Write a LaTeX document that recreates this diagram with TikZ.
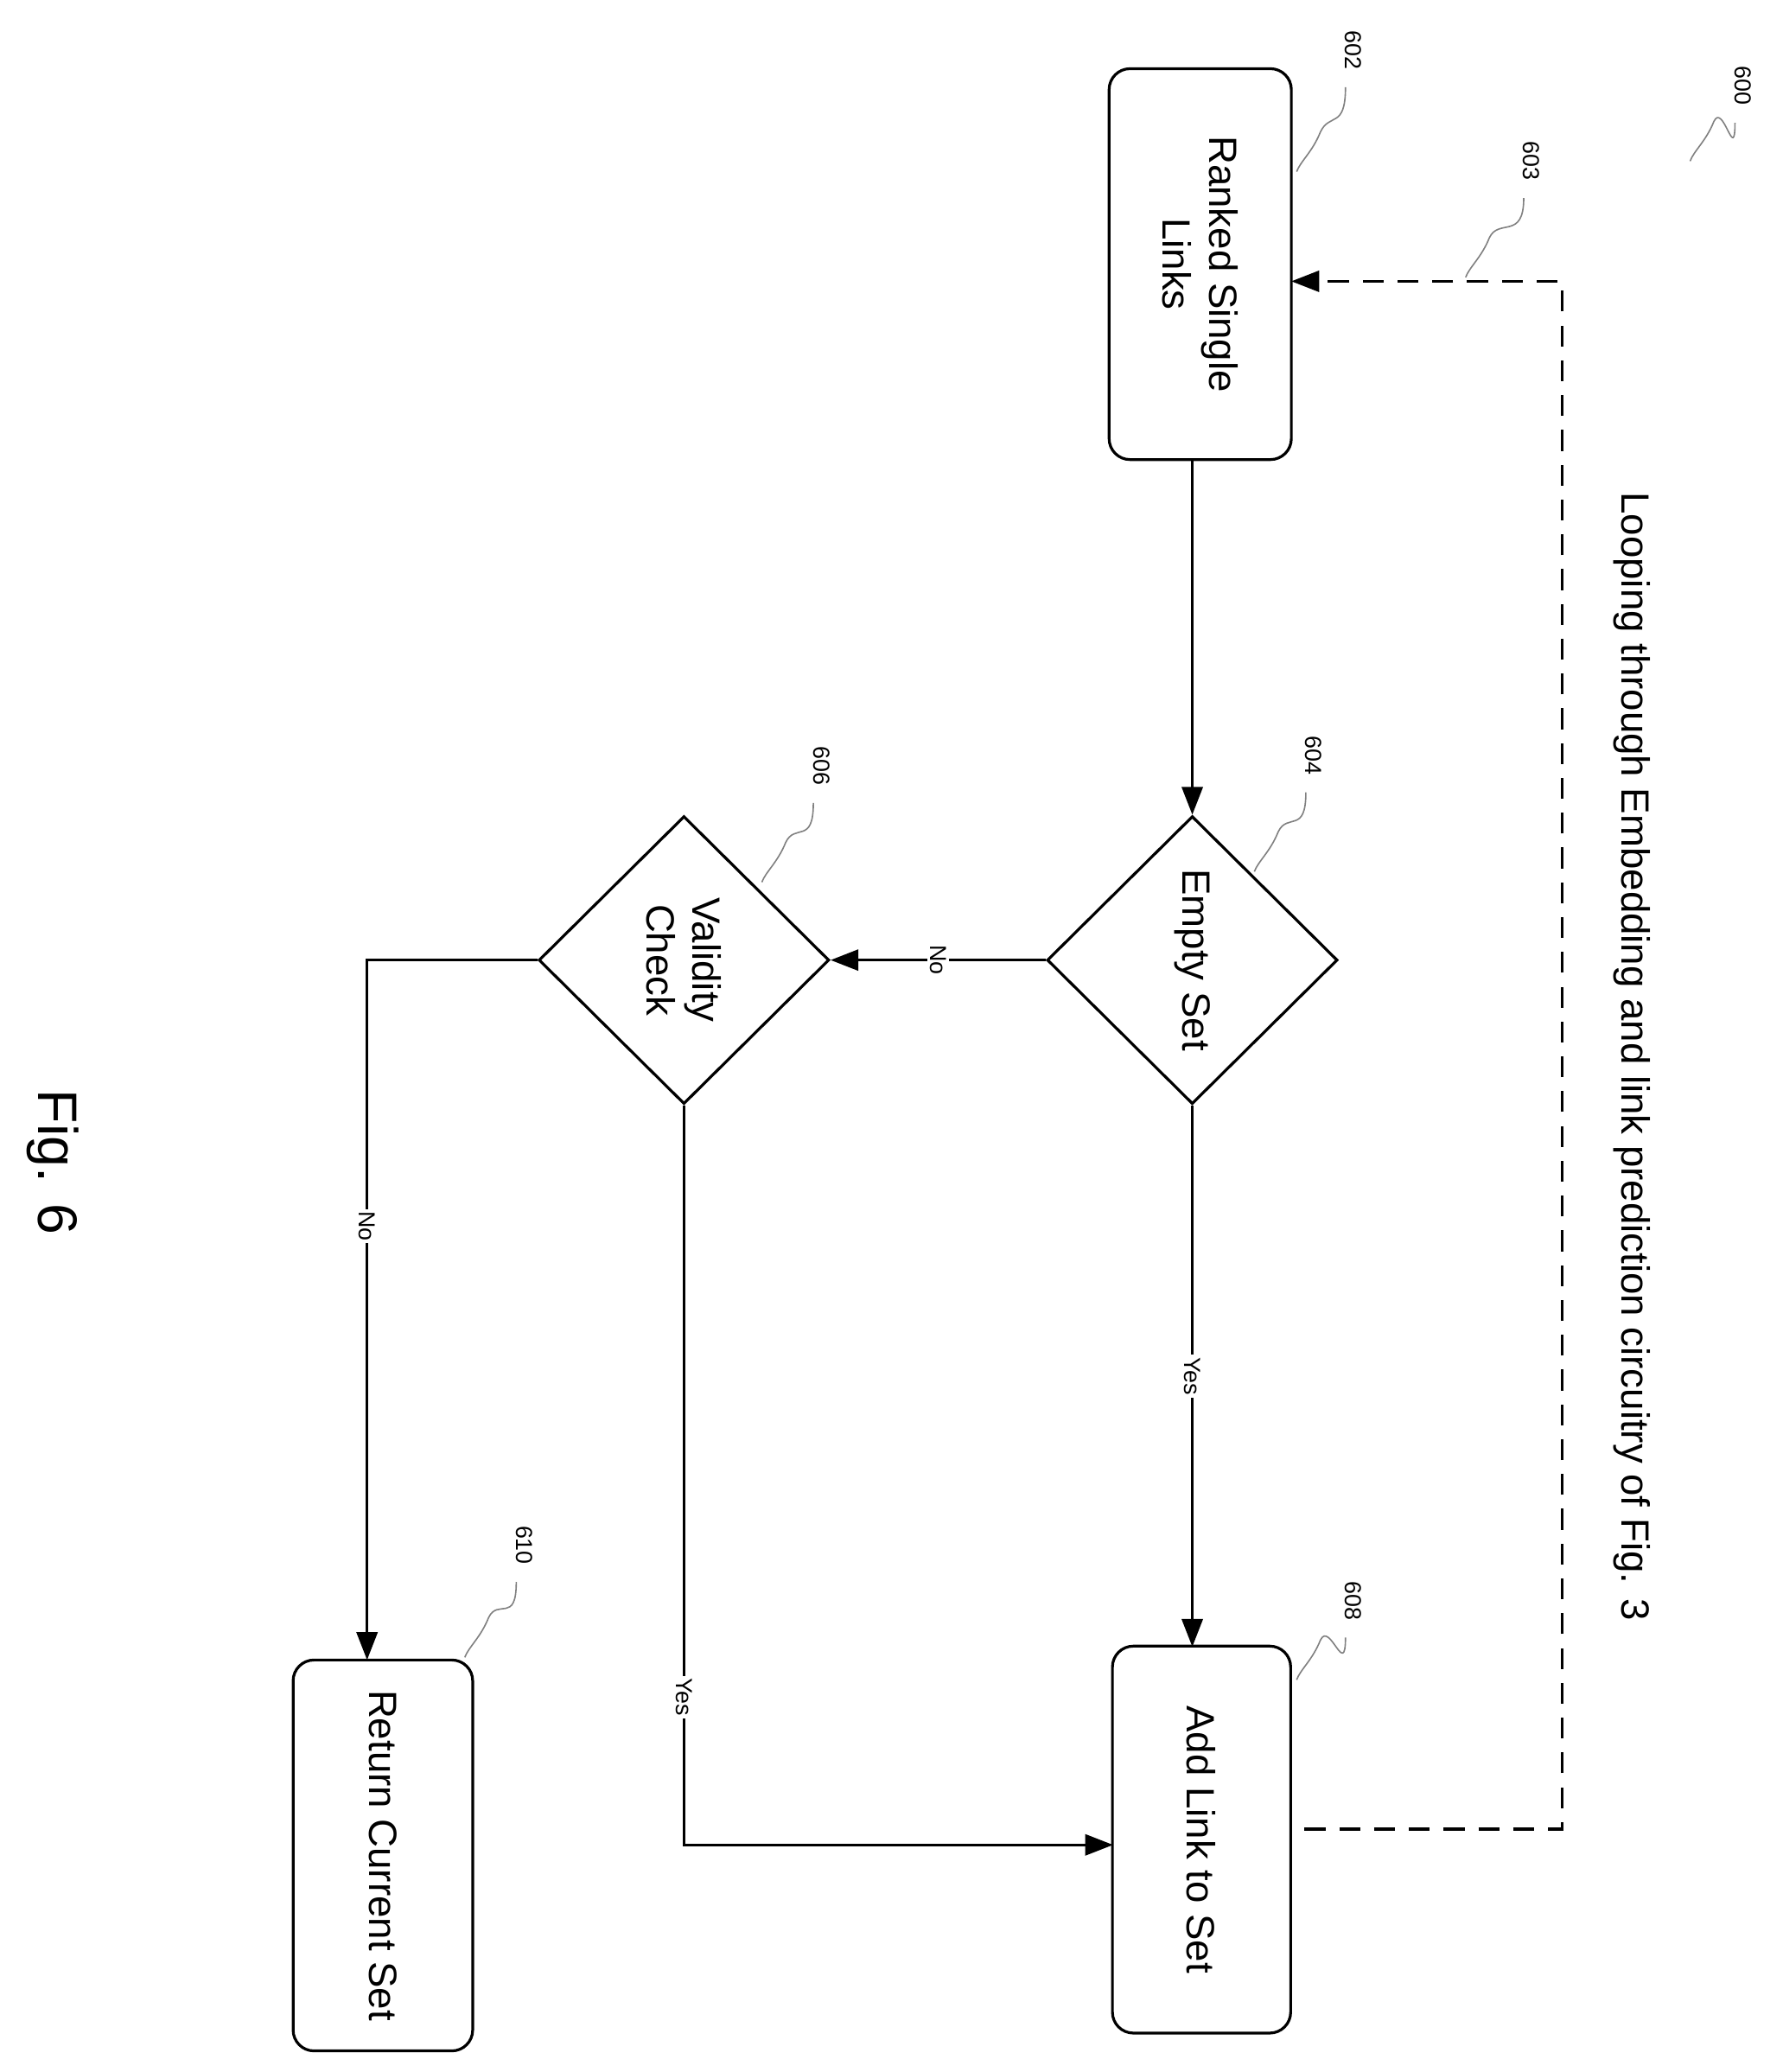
\documentclass[tikz,border=0pt]{standalone}
\usepackage{fontspec}
\setmainfont{Liberation Sans}
\usetikzlibrary{shapes.geometric,arrows.meta}
\begin{document}
\begin{tikzpicture}[x=0.02cm,y=-0.02cm,
  box/.style={draw,line width=1.2pt,rounded corners=9pt,inner sep=0pt},
  dia/.style={draw,line width=1.2pt,diamond,minimum width=220*0.02cm,minimum height=218*0.02cm,inner sep=0pt},
  txt/.style={rotate=-90,font=\fontsize{17}{20}\selectfont,align=center},
  lab/.style={rotate=-90,font=\fontsize{10}{12}\selectfont,fill=white,inner sep=1pt},
  ref/.style={rotate=-90,font=\fontsize{10}{12}\selectfont},
  arr/.style={line width=1.2pt,-{Triangle[length=12pt,width=9pt]}},
  sq/.style={line width=0.6pt,gray}]
\useasboundingbox (0,0) rectangle (1350,1569);
\node[box,minimum width=138*0.02cm,minimum height=296*0.02cm] (b602) at (909,200) {};
\node[txt] at (b602) {Ranked Single\\Links};
\node[dia] (d604) at (903,727) {};
\node[txt] at (d604) {Empty Set};
\node[dia] (d606) at (518,727) {};
\node[txt] at (d606) {Validity\\Check};
\node[box,minimum width=135*0.02cm,minimum height=293*0.02cm] (b608) at (910,1393) {};
\node[txt] at (b608) {Add Link to Set};
\node[box,minimum width=136*0.02cm,minimum height=296*0.02cm] (b610) at (290,1405) {};
\node[txt] at (b610) {Return Current Set};

\coordinate (b602s) at (903,348);
\coordinate (b608n) at (903,1247);
\coordinate (b610n) at (278,1257);
\coordinate (c1) at (518,1397);
\coordinate (c2) at (278,727);
\coordinate (b608w) at (843,1397);
\draw[arr] (b602s) -- (d604.north);
\draw[arr] (d604.west) -- node[lab]{No} (d606.east);
\draw[arr] (d604.south) -- node[lab,pos=0.5]{Yes} (b608n);
\draw[arr] (d606.south) -- node[lab,pos=0.8]{Yes} (c1) -- (b608w);
\draw[arr] (d606.west) -- (c2) -- node[lab,pos=0.38]{No} (b610n);

\coordinate (l1) at (988,1385);
\coordinate (l2) at (1183,1385);
\coordinate (l3) at (1183,213);
\coordinate (b602e) at (978,213);
\draw[arr,dashed,dash pattern=on 9pt off 6pt] (l1) -- (l2) -- (l3) -- (b602e);

\node[rotate=-90,font=\fontsize{17}{20}\selectfont] (loop) at (1236,800) {Looping through Embedding and link prediction circuitry of Fig. 3};
\node[rotate=-90,font=\fontsize{24}{28}\selectfont] (fig) at (40,880) {Fig. 6};

\foreach \n/\x/\y/\ex/\ey in {600/1320/65/1280/122, 602/1025/38/982/130, 603/1160/122/1110/210, 604/995/572/950/660, 606/622/580/577/668, 608/1025/1212/982/1272, 610/397/1170/352/1255}{
  \node[ref] (r\n) at (\x,\y) {\n};
  \draw[sq] (\x-6,\y+28) .. controls (\x-6,\y+60) and (\ex+25,\ey-45) .. (\ex+18,\ey-30) .. controls (\ex+12,\ey-15) and (\ex+3,\ey-8) .. (\ex,\ey);
}
\end{tikzpicture}
\end{document}
